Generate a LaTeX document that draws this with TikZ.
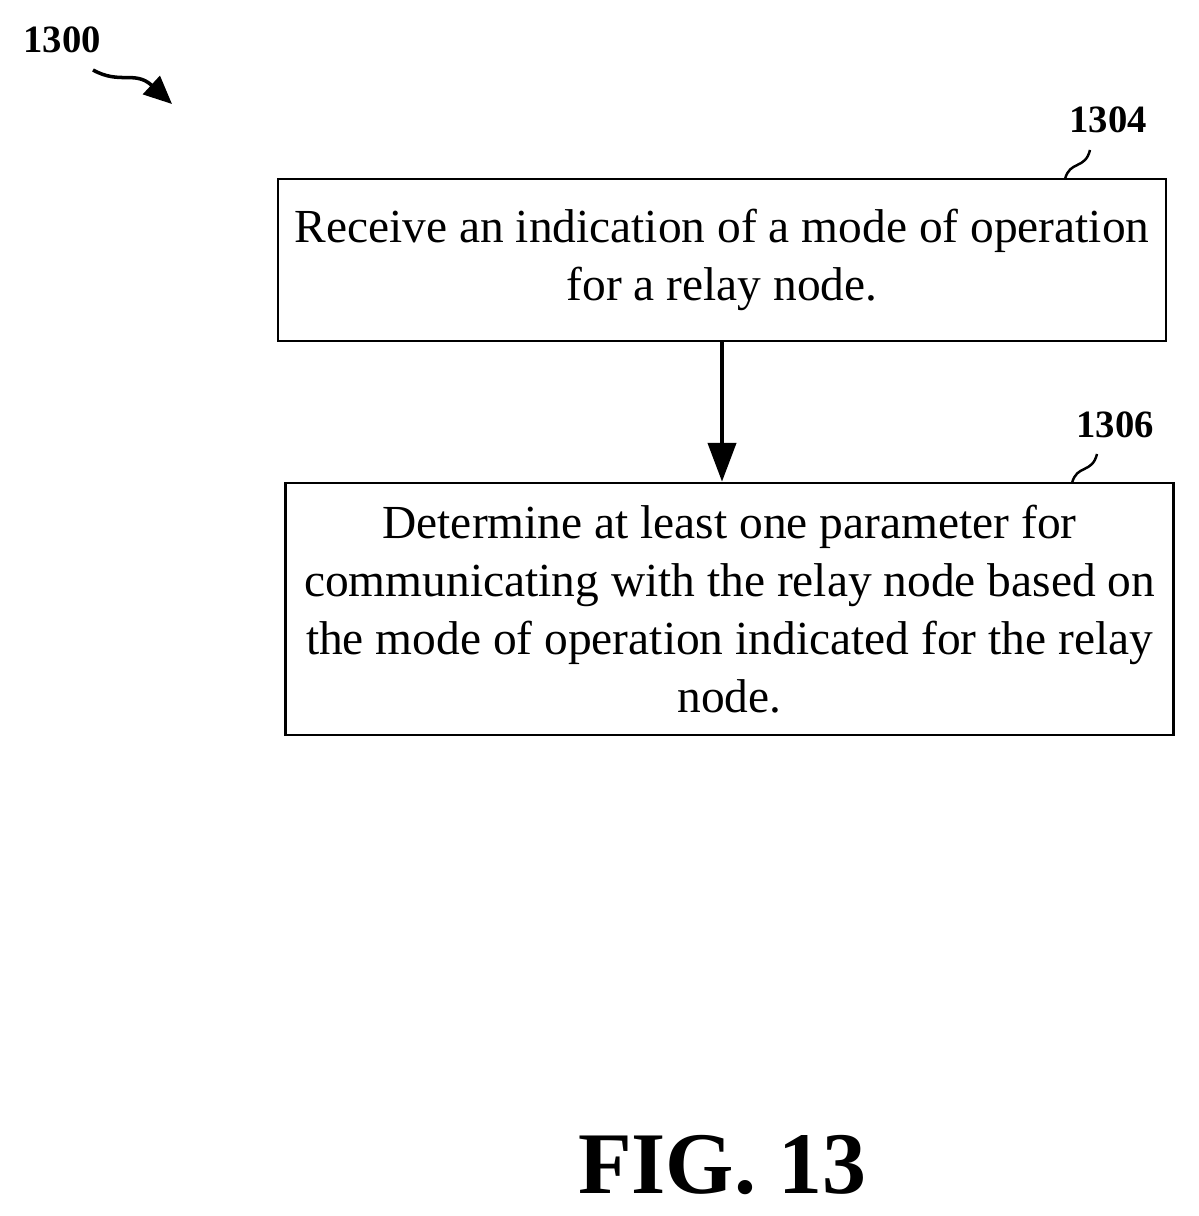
\documentclass[tikz,border=0pt]{standalone}
\usepackage{fontspec}
\setmainfont{Liberation Serif}
\usetikzlibrary{arrows.meta}
\tikzset{
  flowstep/.style={draw, line width=1.6pt, minimum width=17.76cm, align=center, inner sep=0pt,
    font=\fontsize{27}{33}\selectfont},
  reflabel/.style={font=\bfseries\fontsize{22}{26}\selectfont},
  squiggle/.style={line width=1.4pt}
}
\begin{document}
\begin{tikzpicture}[x=0.02cm, y=-0.02cm]
        % Bounding box
        \useasboundingbox (0,0) rectangle (1198,1216);

        % Figure reference
        \node[reflabel] (fig) at (62,40) {1300};
        \coordinate (figtip) at (172,104);
        \draw[line width=2pt, -{Triangle[length=16pt,width=14pt]}] (93,70) .. controls (120,85) and (135,70) .. (figtip);

        % Steps
        \node[flowstep, minimum height=3.24cm] (recv) at (722,260) {Receive an indication of a mode of operation\\for a relay node.};
        \node[flowstep, minimum height=5.04cm] (det) at (729.5,609) {Determine at least one parameter for\\communicating with the relay node based on\\the mode of operation indicated for the relay\\node.};
        \draw[line width=2pt, -{Triangle[length=22pt,width=16pt]}] (recv) -- (recv.south |- det.north);

        % Step labels
        \node[reflabel] (lrecv) at (1108,120) {1304};
        \draw[squiggle] (1065,179) .. controls (1070,160) and (1085,170) .. (1090,150);
        \node[reflabel] (ldet) at (1115,425) {1306};
        \draw[squiggle] (1072,483) .. controls (1077,464) and (1092,474) .. (1097,454);

        % Caption
        \node[font=\bfseries\fontsize{50}{60}\selectfont] (cap) at (722,1165) {FIG. 13};
\end{tikzpicture}
\end{document}
